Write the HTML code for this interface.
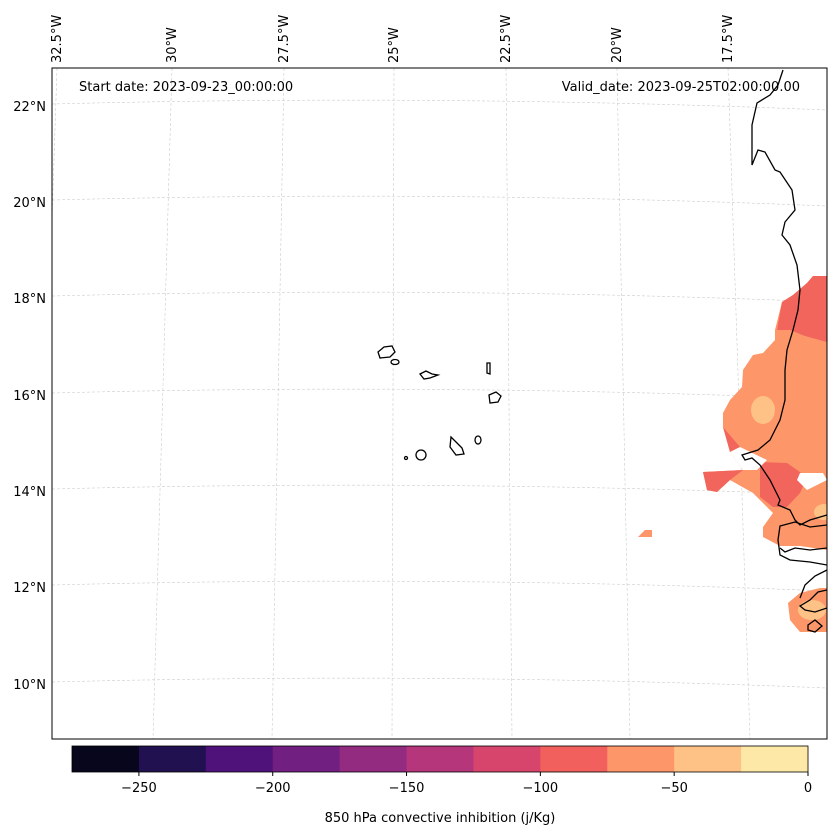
<!DOCTYPE html>
<html><head><meta charset="utf-8"><style>
html,body{margin:0;padding:0;background:#fff;}
svg{display:block;font-family:"DejaVu Sans","Liberation Sans",sans-serif;}
</style></head><body>
<svg id="chart" width="837" height="836" viewBox="0 0 837 836">
<defs><clipPath id="mapclip"><rect x="52" y="68" width="775" height="671"/></clipPath></defs>
<rect x="0" y="0" width="837" height="836" fill="#fff"/>
<g id="grid" clip-path="url(#mapclip)"></g>
<g clip-path="url(#mapclip)">
  <polygon fill="#fd9668" points="813,276 827,276 827,550 800,546 780,546 763,537 763,527 773,513 760,500 753,493 730,480 717,492 707,490 703,472 743,470 730,452 723,427 723,413 730,400 742,387 743,370 753,355 763,353 775,340 775,330 782,302 793,295 807,283"/>
  <polygon fill="#f1655c" points="813,276 827,276 827,342 805,336 790,330 777,330 782,302 793,295 807,283"/>
  <polygon fill="#f1655c" points="760,462 787,463 807,477 800,493 787,507 773,507 760,497"/>
  <polygon fill="#f1655c" points="703,472 743,470 730,480 717,492 707,490"/>
  <polygon fill="#f1655c" points="723,427 728,433 740,447 730,452"/>
  <polygon fill="#fff" points="730,452 740,447 767,460 757,470 743,470"/>
  <polygon fill="#fff" points="800,473 823,473 827,480 807,490 797,480"/>
  <ellipse fill="#fec287" cx="763" cy="410" rx="12" ry="14"/>
  <ellipse fill="#fec287" cx="824" cy="512" rx="10" ry="8"/>
  <polygon fill="#fd9668" points="788,603 800,593 820,588 827,588 827,632 800,632 790,620"/>
  <ellipse fill="#fec287" cx="812" cy="610" rx="14" ry="10"/>
  <polygon fill="#fd9668" points="638,537 645,530 652,530 652,537"/>
</g>
<g clip-path="url(#mapclip)" fill="none" stroke="#000" stroke-width="1.3">
  <path d="M783,70 L778,85 770,95 757,103 752,125 752,165 758,150 765,152 775,170 780,172 792,190 795,210 785,222 782,235 790,245 797,265 800,290 798,310 793,330 787,350 785,370 785,400 780,420 770,440 758,450 742,455 745,460 752,458 760,465 770,480 775,490 780,500 778,505 790,510 795,520 800,525 810,520 827,515"/>
  <path d="M827,525 L810,527 795,522 780,526 778,540 780,555 790,560 810,562 827,565"/>
  <path d="M780,548 L785,552 795,548 810,550 827,548"/>
  <path d="M827,590 L818,592 810,600 800,606 805,610 815,612 827,608"/>
  <path d="M808,625 L815,620 822,626 815,632 808,630Z"/>
  <path d="M827,570 L815,576 805,585 800,598"/>
</g>
<g fill="none" stroke="#000" stroke-width="1.3">
  <path d="M378,352 L384,347 392,346 395,352 390,357 380,358Z"/>
  <ellipse cx="395" cy="362" rx="4" ry="2.5"/>
  <path d="M420,374 L426,371 432,374 438,375 430,378 424,379Z"/>
  <path d="M487,363 L490,363 490,374 487,373Z"/>
  <path d="M489,395 L496,392 501,396 498,402 490,403Z"/>
  <path d="M451,437 L456,442 462,448 464,454 456,455 450,447Z"/>
  <ellipse cx="478" cy="440" rx="3" ry="4"/>
  <ellipse cx="421" cy="455" rx="5" ry="5"/>
  <ellipse cx="406" cy="458" rx="1.5" ry="1.5"/>
</g>
<rect x="52" y="68" width="775" height="671" fill="none" stroke="#000" stroke-width="1"/>
<text x="79" y="91" font-size="13">Start date: 2023-09-23_00:00:00</text>
<text x="800" y="91" font-size="13" text-anchor="end">Valid_date: 2023-09-25T02:00:00.00</text>
<g id="lonlabels"></g>
<g id="latlabels"></g>
<g id="colorbar"></g>
<text x="440" y="822" font-size="13" text-anchor="middle">850 hPa convective inhibition (j/Kg)</text>
</svg>
<script>
const NS="http://www.w3.org/2000/svg";
const lonLabels=["32.5°W","30°W","27.5°W","25°W","22.5°W","20°W","17.5°W"];
const lonTop=[57,172,284,394,506,617,728];
const lonBottom=[35,153,272,392,512,630,750];
const latLabels=["22°N","20°N","18°N","16°N","14°N","12°N","10°N"];
const latLeft=[106,202,298,395,491,587,684];
const cbLevels=[-275,-250,-225,-200,-175,-150,-125,-100,-75,-50,-25,0];
const cbColors=["#07061c","#221150","#4f127b","#711f81","#932b80","#b5367a","#d8456c","#f1605d","#fd9668","#fec287","#fde8a7"];
const cbTicks=[-250,-200,-150,-100,-50,0];
function mk(t,a,p){const e=document.createElementNS(NS,t);for(const k in a)e.setAttribute(k,a[k]);p.appendChild(e);return e;}
const grid=document.getElementById('grid');
lonTop.forEach((x,i)=>{const l=mk('line',{x1:x,y1:68,x2:lonBottom[i],y2:739,stroke:'#ccc','stroke-width':0.6,'stroke-dasharray':'3,2'},grid);

});
latLeft.forEach(y=>{const l=mk('path',{d:`M52,${y-2} Q440,${y-12} 827,${y+4}`,fill:'none',stroke:'#ccc','stroke-width':0.6,'stroke-dasharray':'3,2'},grid);

});
const lg=document.getElementById('lonlabels');
lonLabels.forEach((s,i)=>{const x=lonTop[i]+4;const t=mk('text',{x:0,y:0,'font-size':13,transform:`translate(${x},63) rotate(-90)`},lg);t.textContent=s;

});
const ag=document.getElementById('latlabels');
latLabels.forEach((s,i)=>{const t=mk('text',{x:46,y:latLeft[i]+5,'font-size':13,'text-anchor':'end'},ag);t.textContent=s;

});
const cb=document.getElementById('colorbar');
const x0=72,x1=808,vmin=cbLevels[0],vmax=cbLevels[cbLevels.length-1];
const sx=v=>x0+(v-vmin)/(vmax-vmin)*(x1-x0);
cbColors.forEach((c,i)=>{const r=mk('rect',{x:sx(cbLevels[i]),y:746,width:sx(cbLevels[i+1])-sx(cbLevels[i])+0.5,height:26,fill:c},cb);

});
mk('rect',{x:x0,y:746,width:x1-x0,height:26,fill:'none',stroke:'#000','stroke-width':0.8},cb);
cbTicks.forEach(v=>{const x=sx(v);mk('line',{x1:x,y1:772,x2:x,y2:776,stroke:'#000'},cb);
const t=mk('text',{x:x,y:792,'font-size':13,'text-anchor':'middle'},cb);t.textContent=v<0?'\u2212'+Math.abs(v):String(v);

});
</script>
</body></html>
